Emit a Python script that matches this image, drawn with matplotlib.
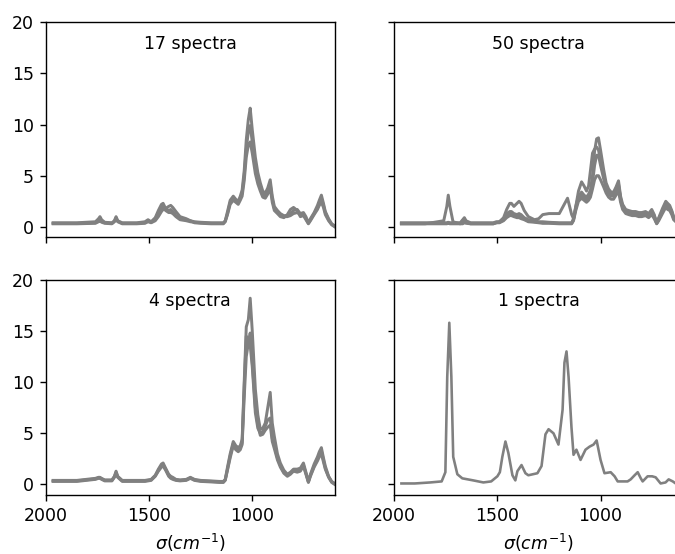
import numpy as np
import matplotlib.pyplot as plt

# wavenumber grid for the cluster spectra
sigma = [1965, 1850, 1760, 1745, 1738, 1730, 1715, 1680, 1668, 1660, 1652, 1630,
         1560, 1520, 1505, 1490, 1470, 1455, 1440, 1432, 1420, 1405, 1395, 1385,
         1370, 1350, 1320, 1300, 1280, 1250, 1200, 1160, 1140, 1131, 1120, 1107,
         1092, 1080, 1068, 1058, 1049, 1039, 1029, 1019, 1010, 1000, 985, 973,
         961, 949, 937, 925, 913, 903, 893, 878, 864, 847, 830, 815,
         800, 782, 767, 752, 740, 728, 718, 700, 684, 675, 665, 655, 646, 630, 615, 600]

# cluster with 17 spectra
c17_a = [0.4, 0.4, 0.5, 0.8, 1.0, 0.7, 0.45, 0.4, 0.6, 1.0, 0.6, 0.4,
         0.4, 0.5, 0.7, 0.5, 0.9, 1.6, 2.2, 2.3, 1.8, 1.6, 1.7, 1.5,
         1.1, 0.8, 0.7, 0.6, 0.5, 0.45, 0.4, 0.4, 0.4, 0.6, 1.5, 2.6,
         3.0, 2.7, 2.5, 3.0, 3.6, 5.5, 8.5, 10.5, 11.6, 9.5, 6.8, 5.3,
         4.3, 3.5, 3.3, 3.8, 4.6, 3.0, 2.0, 1.6, 1.3, 1.1, 1.1, 1.3,
         1.6, 1.7, 1.3, 1.4, 1.0, 0.4, 0.8, 1.4, 2.1, 2.6, 3.1, 2.3, 1.5, 0.8, 0.3, 0.1]
c17_b = [0.3, 0.3, 0.35, 0.5, 0.6, 0.45, 0.35, 0.3, 0.5, 0.8, 0.5, 0.3,
         0.3, 0.35, 0.5, 0.4, 0.6, 1.0, 1.5, 1.7, 1.8, 2.0, 2.1, 1.9,
         1.5, 1.0, 0.8, 0.6, 0.4, 0.35, 0.3, 0.3, 0.3, 0.5, 1.2, 2.2,
         2.6, 2.4, 2.2, 2.6, 3.0, 4.5, 6.8, 8.0, 8.3, 7.2, 5.2, 4.2,
         3.5, 2.9, 2.8, 3.2, 3.8, 2.4, 1.6, 1.3, 1.0, 0.9, 1.2, 1.7,
         1.9, 1.6, 1.0, 1.1, 0.7, 0.3, 0.6, 1.2, 1.7, 2.1, 2.4, 1.9, 1.2, 0.6, 0.2, 0.0]
c17_c = [0.35, 0.35, 0.4, 0.6, 0.8, 0.55, 0.4, 0.35, 0.55, 0.9, 0.55, 0.35,
         0.35, 0.4, 0.6, 0.45, 0.8, 1.3, 1.9, 2.0, 1.6, 1.4, 1.4, 1.3,
         1.0, 0.7, 0.6, 0.5, 0.45, 0.4, 0.35, 0.35, 0.35, 0.55, 1.3, 2.4,
         2.8, 2.6, 2.4, 2.8, 3.3, 5.0, 7.6, 9.3, 9.9, 8.3, 6.0, 4.7,
         3.9, 3.2, 3.0, 3.5, 4.2, 2.7, 1.8, 1.4, 1.2, 1.0, 1.0, 1.1,
         1.3, 1.4, 1.2, 1.2, 0.8, 0.35, 0.7, 1.3, 1.9, 2.3, 2.8, 2.1, 1.4, 0.7, 0.25, 0.05]

# cluster with 50 spectra
c50_a = [0.4, 0.4, 0.4, 0.4, 0.45, 0.4, 0.4, 0.4, 0.7, 0.9, 0.6, 0.4,
         0.4, 0.4, 0.5, 0.5, 0.8, 1.3, 1.5, 1.5, 1.3, 1.2, 1.3, 1.2,
         0.9, 0.7, 0.6, 0.5, 0.5, 0.45, 0.4, 0.4, 0.4, 0.8, 2.0, 3.0,
         3.4, 3.1, 2.9, 3.2, 3.6, 5.0, 7.4, 8.6, 8.7, 7.5, 5.6, 4.3,
         3.7, 3.4, 3.4, 3.9, 4.5, 3.0, 2.2, 1.7, 1.6, 1.5, 1.5, 1.4,
         1.4, 1.5, 1.3, 1.7, 1.2, 0.4, 0.9, 1.8, 2.5, 2.3, 2.1, 1.6, 1.0, 0.5, 0.2, 0.1]
c50_b = [0.3, 0.3, 0.3, 0.3, 0.35, 0.3, 0.3, 0.3, 0.5, 0.7, 0.45, 0.3,
         0.3, 0.3, 0.4, 0.4, 0.6, 0.9, 1.1, 1.1, 1.0, 0.9, 0.9, 0.8,
         0.7, 0.5, 0.45, 0.4, 0.35, 0.35, 0.3, 0.3, 0.3, 0.6, 1.6, 2.5,
         2.8, 2.6, 2.4, 2.6, 2.9, 3.7, 4.6, 5.0, 5.0, 4.6, 3.9, 3.3,
         2.9, 2.7, 2.7, 3.1, 3.5, 2.4, 1.7, 1.3, 1.2, 1.1, 1.1, 1.0,
         1.0, 1.1, 0.9, 1.2, 0.8, 0.3, 0.6, 1.3, 1.9, 1.7, 1.6, 1.2, 0.7, 0.4, 0.1, 0.0]
c50_c = [0.35, 0.35, 0.35, 0.35, 0.4, 0.35, 0.35, 0.35, 0.6, 0.8, 0.5, 0.35,
         0.35, 0.35, 0.45, 0.45, 0.7, 1.1, 1.3, 1.3, 1.1, 1.0, 1.1, 1.0,
         0.8, 0.6, 0.5, 0.45, 0.4, 0.4, 0.35, 0.35, 0.35, 0.7, 1.8, 2.8,
         3.1, 2.8, 2.6, 2.9, 3.2, 4.3, 6.0, 7.0, 7.0, 6.0, 4.7, 3.8,
         3.3, 3.0, 3.0, 3.5, 4.0, 2.7, 1.9, 1.5, 1.4, 1.3, 1.3, 1.2,
         1.2, 1.3, 1.1, 1.4, 1.0, 0.35, 0.75, 1.5, 2.2, 2.0, 1.8, 1.4, 0.85, 0.45, 0.15, 0.05]
c50_out = [0.3, 0.3, 0.6, 2.0, 3.1, 2.0, 0.5, 0.3, 0.3, 0.4, 0.35, 0.3,
           0.3, 0.3, 0.4, 0.5, 0.9, 1.7, 2.3, 2.3, 2.0, 2.3, 2.5, 2.3,
           1.6, 1.0, 0.7, 0.8, 1.2, 1.3, 1.3, 2.8, 1.2, 0.8, 2.0, 3.5,
           4.4, 4.0, 3.5, 4.0, 5.5, 7.2, 7.6, 7.8, 7.5, 6.5, 5.0, 4.0,
           3.5, 3.2, 3.2, 3.7, 4.2, 2.8, 2.0, 1.6, 1.5, 1.4, 1.4, 1.3,
           1.3, 1.4, 1.2, 1.5, 1.1, 0.35, 0.8, 1.6, 2.3, 2.1, 1.9, 1.5, 0.9, 0.5, 0.2, 0.05]

# cluster with 4 spectra
c4_a = [0.4, 0.4, 0.6, 0.7, 0.7, 0.6, 0.45, 0.45, 0.8, 1.3, 0.8, 0.4,
        0.4, 0.4, 0.45, 0.5, 0.9, 1.5, 2.0, 2.1, 1.6, 1.0, 0.8, 0.7,
        0.5, 0.45, 0.5, 0.7, 0.5, 0.4, 0.35, 0.3, 0.3, 0.5, 1.7, 3.0,
        4.2, 3.8, 3.6, 3.8, 4.4, 10.0, 15.4, 16.1, 18.2, 15.0, 9.3, 6.8,
        5.4, 5.5, 6.0, 7.5, 9.0, 6.0, 4.7, 3.0, 2.1, 1.4, 1.0, 1.2,
        1.5, 1.5, 1.6, 2.1, 1.2, 0.3, 1.0, 2.0, 2.7, 3.2, 3.6, 2.6, 1.8, 0.8, 0.3, 0.1]
c4_b = [0.3, 0.3, 0.5, 0.6, 0.6, 0.5, 0.35, 0.35, 0.7, 1.1, 0.7, 0.3,
        0.3, 0.3, 0.35, 0.4, 0.8, 1.3, 1.7, 1.8, 1.4, 0.8, 0.6, 0.5,
        0.4, 0.35, 0.4, 0.6, 0.4, 0.3, 0.25, 0.2, 0.2, 0.4, 1.4, 2.6,
        3.8, 3.4, 3.2, 3.4, 3.9, 8.5, 12.5, 13.8, 14.8, 12.0, 7.5, 5.8,
        4.8, 4.9, 5.3, 5.6, 5.8, 4.2, 3.5, 2.4, 1.7, 1.1, 0.8, 1.0,
        1.3, 1.2, 1.3, 1.8, 1.0, 0.2, 0.8, 1.7, 2.3, 2.7, 3.0, 2.2, 1.5, 0.7, 0.2, 0.0]
c4_c = [0.35, 0.35, 0.55, 0.65, 0.65, 0.55, 0.4, 0.4, 0.75, 1.2, 0.75, 0.35,
        0.35, 0.35, 0.4, 0.45, 0.85, 1.4, 1.8, 1.9, 1.5, 0.9, 0.7, 0.6,
        0.45, 0.4, 0.45, 0.65, 0.45, 0.35, 0.3, 0.25, 0.25, 0.45, 1.5, 2.8,
        4.0, 3.6, 3.4, 3.6, 4.1, 9.5, 14.5, 14.0, 13.6, 11.5, 7.0, 5.5,
        5.0, 5.2, 5.7, 6.3, 6.5, 4.5, 3.8, 2.6, 1.9, 1.2, 0.9, 1.1,
        1.4, 1.3, 1.4, 1.9, 1.1, 0.25, 0.9, 1.8, 2.5, 2.9, 3.3, 2.4, 1.6, 0.75, 0.25, 0.05]

# single spectrum
sigma_1 = [1965, 1900, 1825, 1770, 1752, 1743, 1733, 1723, 1714, 1694,
           1670, 1617, 1568, 1530, 1500, 1488, 1476, 1461, 1447, 1427,
           1413, 1403, 1383, 1364, 1350, 1306, 1286, 1267, 1252, 1228,
           1204, 1184, 1175, 1165, 1155, 1141, 1131, 1117, 1097, 1073,
           1053, 1034, 1019, 1000, 981, 951, 932, 917, 869, 854,
           835, 820, 805, 796, 772, 750, 733, 709, 685, 670,
           650, 636, 615]
spec_1 = [0.1, 0.1, 0.2, 0.3, 1.2, 10.5, 15.8, 10.5, 2.7, 1.0,
          0.6, 0.4, 0.2, 0.3, 0.8, 1.2, 2.7, 4.2, 3.1, 0.9,
          0.4, 1.3, 1.9, 1.1, 0.9, 1.1, 1.8, 4.9, 5.4, 5.0,
          3.9, 7.3, 11.9, 13.0, 10.5, 5.6, 2.9, 3.4, 2.4, 3.4,
          3.7, 3.9, 4.3, 2.4, 1.1, 1.2, 0.8, 0.3, 0.3, 0.5,
          0.9, 1.2, 0.6, 0.3, 0.8, 0.8, 0.7, 0.1, 0.2, 0.5,
          0.3, 0.1, 0.0]

titles = ["17 spectra", "50 spectra", "4 spectra", "1 spectra"]
groups = [[c17_a, c17_b, c17_c], [c50_a, c50_b, c50_c, c50_out], [c4_a, c4_b, c4_c]]

fig, axes = plt.subplots(2, 2, sharex=True, sharey=True, figsize=(5.4, 4.432), dpi=125)
axes = axes.ravel()

for ax, group in zip(axes[:3], groups):
    for spec in group:
        ax.plot(sigma, spec, color="gray", lw=1.7)
axes[3].plot(sigma_1, spec_1, color="gray", lw=1.5)

for ax, title in zip(axes, titles):
    ax.text(0.5, 0.9, title, transform=ax.transAxes, ha="center", va="center")

axes[0].set_xlim(2000, 600)
axes[0].set_ylim(-1, 20)
axes[0].set_yticks([0, 5, 10, 15, 20])
axes[0].set_xticks([2000, 1500, 1000])
axes[2].set_xlabel(r"$\sigma (cm^{-1})$")
axes[3].set_xlabel(r"$\sigma (cm^{-1})$")

w = 0.428
h = 0.388
axes[0].set_position([0.068, 0.572, w, h])
axes[1].set_position([0.584, 0.572, w, h])
axes[2].set_position([0.068, 0.107, w, h])
axes[3].set_position([0.584, 0.107, w, h])

plt.savefig("out.png", dpi=125)
